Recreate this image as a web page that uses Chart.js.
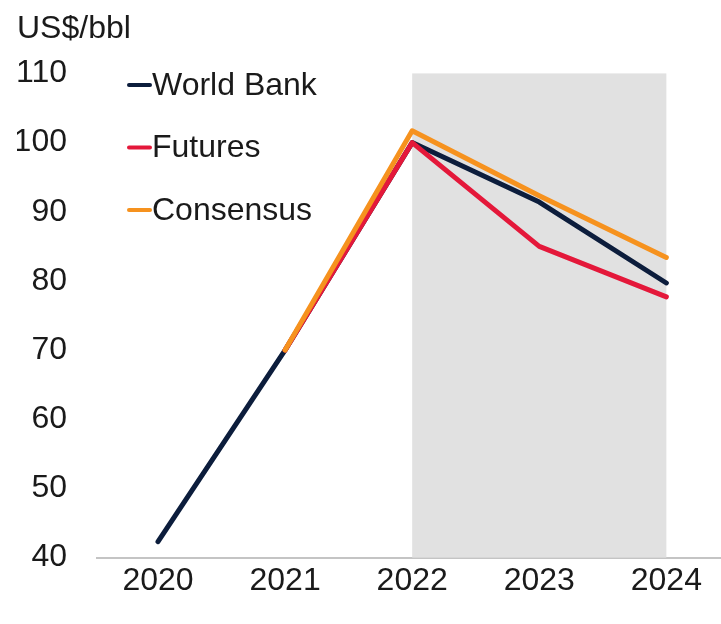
<!DOCTYPE html>
<html>
<head>
<meta charset="utf-8">
<script src="https://cdn.jsdelivr.net/npm/chart.js@4/dist/chart.umd.min.js"></script>
<style>
  html, body { margin: 0; padding: 0; background: #fff; }
  #wrap { width: 721px; height: 624px; position: relative; }
</style>
</head>
<body>
<div id="wrap"><canvas id="oilChart"></canvas></div>
<script>
// chart data
const years = [2020, 2021, 2022, 2023, 2024];
const worldBank = [42.3, 70, 100, 91.4, 79.7];
const futures = [null, 70, 100, 85, 77.7];
const consensus = [null, 70, 101.7, 92.3, 83.4];
const yTicks = [40, 50, 60, 70, 80, 90, 100, 110];
const forecastFrom = 2022;
const forecastTo = 2024;

const FONT = '"Liberation Sans", Arial, sans-serif';
const TEXT = '#1a1a1a';

const toPoints = arr => years.map((y, i) => ({ x: y, y: arr[i] }));

// grey band behind the forecast years
const shadePlugin = {
    id: 'shade',
    beforeDatasetsDraw(chart) {
        const { ctx, scales: { x, y } } = chart;
        const x0 = x.getPixelForValue(forecastFrom);
        const x1 = x.getPixelForValue(forecastTo);
        const y0 = y.getPixelForValue(yTicks[yTicks.length - 1]);
        const y1 = y.getPixelForValue(yTicks[0]);
        ctx.save();
        ctx.fillStyle = '#e1e1e1';
        ctx.fillRect(x0, y0, x1 - x0, y1 - y0);
        ctx.restore();
    }
};

// legend stacked inside the plot, top left
const legendPlugin = {
    id: 'innerLegend',
    afterDatasetsDraw(chart) {
        const ctx = chart.ctx;
        ctx.save();
        ctx.font = '32px ' + FONT;
        ctx.textBaseline = 'middle';
        chart.data.datasets.forEach((ds, i) => {
            const yy = 85 + i * 62.5;
            ctx.strokeStyle = ds.borderColor;
            ctx.lineWidth = 4;
            ctx.lineCap = 'round';
            ctx.beginPath();
            ctx.moveTo(129, yy);
            ctx.lineTo(150, yy);
            ctx.stroke();
            ctx.fillStyle = TEXT;
            ctx.fillText(ds.label, 152, yy + 1);
        });
        ctx.restore();
    }
};

const lineStyle = {
    borderWidth: 5,
    pointRadius: 0,
    tension: 0,
    borderCapStyle: 'round',
    borderJoinStyle: 'round',
    spanGaps: false
};

new Chart(document.getElementById('oilChart').getContext('2d'), {
    type: 'line',
    data: {
        datasets: [
            // higher order = drawn underneath
            { label: 'World Bank', data: toPoints(worldBank), borderColor: '#0c1d3c', order: 3, ...lineStyle },
            { label: 'Futures', data: toPoints(futures), borderColor: '#e4183a', order: 2, ...lineStyle },
            { label: 'Consensus', data: toPoints(consensus), borderColor: '#f6921e', order: 1, ...lineStyle }
        ]
    },
    options: {
        responsive: true,
        maintainAspectRatio: false,
        animation: false,
        layout: { padding: { left: 17, right: 0, top: 0, bottom: 20 } },
        plugins: {
            legend: { display: false },
            tooltip: { enabled: false },
            title: {
                display: true,
                text: 'US$/bbl',
                align: 'start',
                color: TEXT,
                font: { family: FONT, size: 32, weight: 'normal', lineHeight: 1.2 },
                padding: { top: 10, bottom: 25 }
            }
        },
        scales: {
            x: {
                type: 'linear',
                min: 2019.52,
                max: 2024.43,
                afterBuildTicks: s => { s.ticks = years.map(v => ({ value: v })); },
                grid: { display: false, drawTicks: false },
                border: { display: true, color: '#c4c4c4', width: 2 },
                ticks: {
                    color: TEXT,
                    padding: 4,
                    font: { family: FONT, size: 32, lineHeight: 1.2 },
                    callback: v => String(v),
                    maxRotation: 0
                }
            },
            y: {
                min: 40,
                max: 110,
                afterBuildTicks: s => { s.ticks = yTicks.map(v => ({ value: v })); },
                afterFit: s => { s.width = 80; },
                grid: { display: false, drawTicks: false },
                border: { display: false },
                ticks: {
                    color: TEXT,
                    padding: 30,
                    font: { family: FONT, size: 32, lineHeight: 1.2 }
                }
            }
        }
    },
    plugins: [shadePlugin, legendPlugin]
});
</script>
</body>
</html>
